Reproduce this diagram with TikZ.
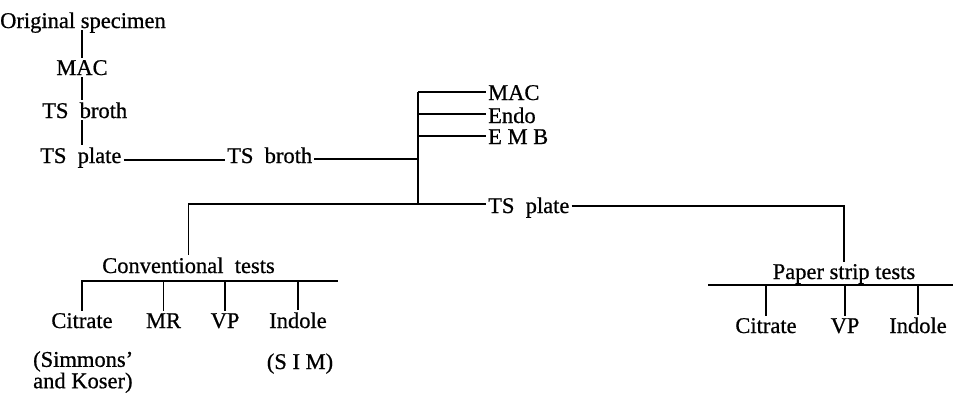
\documentclass[tikz,border=0pt]{standalone}
\usepackage{fontspec}
\setmainfont{Liberation Serif}
\newfontfamily\lblfont{Liberation Serif}[Ligatures=TeX,FakeBold=0.7]
\newcommand{\gp}{\hspace{0.5em}}
\begin{document}
\begin{tikzpicture}[x=1pt,y=-1pt,
  lbl/.style={inner xsep=2pt,inner ysep=2pt,font=\lblfont\fontsize{22.5}{20}\selectfont},
  ln/.style={line width=1.2pt}]
\useasboundingbox (0,0) rectangle (953,392);
% left column
\node[lbl,anchor=base west] (orig) at (-2,28) {Original specimen};
\node[lbl,anchor=base] (mac1) at (82,75) {MAC};
\node[lbl,anchor=base west] (broth1) at (40,118) {TS\gp broth};
\node[lbl,anchor=base west] (plate1) at (38,163) {TS\gp plate};
\node[lbl,anchor=base west] (broth2) at (225,163) {TS\gp broth};
% media
\node[lbl,anchor=base west] (mac2) at (486,100) {MAC};
\node[lbl,anchor=base west] (endo) at (486,123) {Endo};
\node[lbl,anchor=base west] (emb) at (486,144) {E M B};
\node[lbl,anchor=base west] (plate2) at (486,213) {TS\gp plate};
% conventional
\node[lbl,anchor=base] (conv) at (188.5,273) {Conventional\gp tests};
\node[lbl,anchor=base] (citL) at (82,328) {Citrate};
\node[lbl,anchor=base] (mr) at (163.5,328) {MR};
\node[lbl,anchor=base] (vpL) at (225,328) {VP};
\node[lbl,anchor=base] (indL) at (298,328) {Indole};
\node[lbl,anchor=north west,inner sep=0pt,align=left,font=\lblfont\fontsize{22.5}{18.5}\selectfont] (sim) at (33,351) {(Simmons'\\and Koser)};
\node[lbl,anchor=base] (simL) at (300,369) {(S I M)};
% paper strip
\node[lbl,anchor=base] (paper) at (844,279) {Paper strip tests};
\node[lbl,anchor=base] (citR) at (766,333) {Citrate};
\node[lbl,anchor=base] (vpR) at (845,333) {VP};
\node[lbl,anchor=base] (indR) at (918,333) {Indole};
% junctions
\coordinate (jt) at (418,92);
\coordinate (je) at (418,114);
\coordinate (jm) at (418,136);
\coordinate (j) at (418,159);
\coordinate (jl) at (418,160);
\coordinate (jb) at (418,204);
\coordinate (pr) at (845,206);
\coordinate (cl) at (82,281);
\coordinate (cr) at (338,281);
\coordinate (pl) at (708,285);
\coordinate (pe) at (953,285);
% connectors
\draw[ln] ([yshift=-2pt]mac1.north |- orig.base) -- (mac1.north);
\draw[ln] (mac1.south) -- (mac1.south |- broth1.north);
\draw[ln] (mac1.south |- broth1.south) -- (mac1.south |- plate1.north);
\draw[ln] (plate1.east |- jl) -- (broth2.west |- jl);
\draw[ln] (broth2.east |- j) -- (j);
\draw[ln] (jt) -- (jb);
\draw[ln] (jt) -- (jt -| mac2.west);
\draw[ln] (je) -- (je -| endo.west);
\draw[ln] (jm) -- (jm -| emb.west);
\draw[ln] (jb) -- (jb -| plate2.west);
\draw[ln] (jb) -| (conv.north);
\draw[ln] (pr -| plate2.east) -| (paper.north);
\draw[ln] (citL.north) |- (cr);
\draw[ln] (mr.north |- cl) -- (mr.north);
\draw[ln] (vpL.north |- cl) -- (vpL.north);
\draw[ln] (indL.north |- cl) -- (indL.north);
\draw[ln] (pl) -- (pe);
\draw[ln] (citR.north |- pl) -- (citR.north);
\draw[ln] (vpR.north |- pl) -- (vpR.north);
\draw[ln] (indR.north |- pl) -- (indR.north);
\end{tikzpicture}
\end{document}
